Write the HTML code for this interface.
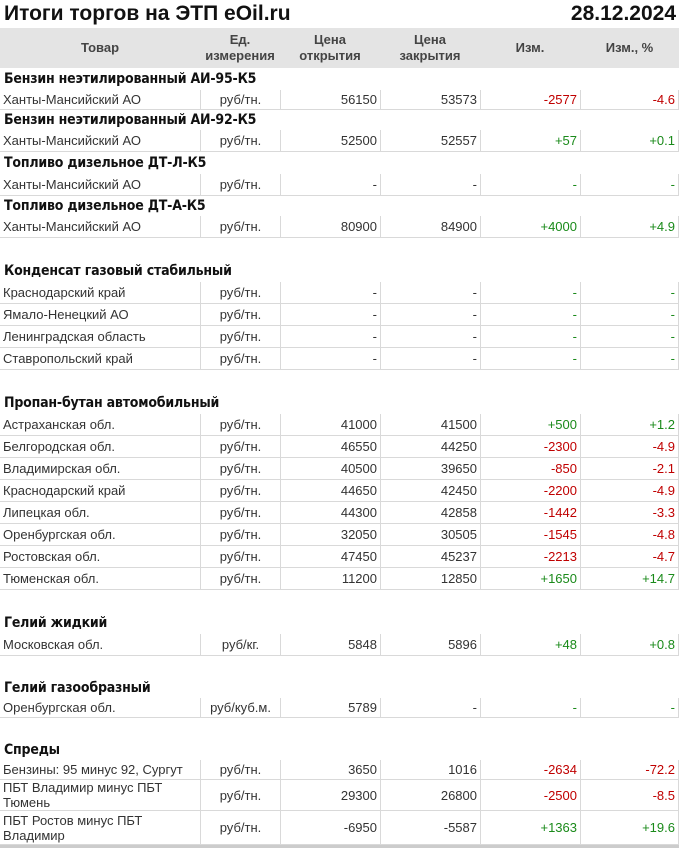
<!DOCTYPE html>
<html><head><meta charset="utf-8"><style>
body{margin:0;width:680px;height:849px;background:#fff;position:relative;overflow:hidden;font-family:"Liberation Sans","DejaVu Sans",sans-serif;}
.t{position:absolute;font-weight:bold;font-size:21px;color:#111;top:2px}
.hdr{position:absolute;left:0;top:28px;width:679px;height:40px;background:#e4e4e4;}
.hc{position:absolute;top:0;height:40px;display:flex;align-items:center;justify-content:center;text-align:center;font-size:13px;font-weight:bold;color:#444;line-height:16px}
.row{position:absolute;left:0;width:679px}
.c{position:absolute;top:0;height:100%;box-sizing:border-box;display:flex;align-items:center;font-size:13px;color:#333;padding:0 3px;line-height:15px}
.r{justify-content:flex-end}
.sec{position:absolute;left:4px;font-weight:bold;font-size:14px;color:#111;font-family:"DejaVu Sans Condensed","Liberation Sans",sans-serif;letter-spacing:-0.2px}
.red{color:#c00000}.grn{color:#1a8a1a}
</style></head><body>
<div class="t" style="left:4px">Итоги торгов на ЭТП eOil.ru</div>
<div class="t" style="right:4px">28.12.2024</div>
<div class="hdr">
<div class="hc" style="left:0;width:200px">Товар</div>
<div class="hc" style="left:200px;width:80px">Ед.<br>измерения</div>
<div class="hc" style="left:280px;width:100px">Цена<br>открытия</div>
<div class="hc" style="left:380px;width:100px">Цена<br>закрытия</div>
<div class="hc" style="left:480px;width:100px">Изм.</div>
<div class="hc" style="left:580px;width:99px">Изм., %</div>
</div>
<div id="tb"></div>
<div style="position:absolute;left:0;top:845px;width:679px;height:3px;background:#ccc"></div>
<script>
const rows=[
['s','Бензин неэтилированный АИ-95-К5',22],
['d','Ханты-Мансийский АО','руб/тн.','56150','53573','-2577','-4.6',20],
['s','Бензин неэтилированный АИ-92-К5',20],
['d','Ханты-Мансийский АО','руб/тн.','52500','52557','+57','+0.1',22],
['s','Топливо дизельное ДТ-Л-К5',22],
['d','Ханты-Мансийский АО','руб/тн.','-','-','-','-',22],
['s','Топливо дизельное ДТ-А-К5',20],
['d','Ханты-Мансийский АО','руб/тн.','80900','84900','+4000','+4.9',22],
['b',22],
['s','Конденсат газовый стабильный',22],
['d','Краснодарский край','руб/тн.','-','-','-','-',22],
['d','Ямало-Ненецкий АО','руб/тн.','-','-','-','-',22],
['d','Ленинградская область','руб/тн.','-','-','-','-',22],
['d','Ставропольский край','руб/тн.','-','-','-','-',22],
['b',22],
['s','Пропан-бутан автомобильный',22],
['d','Астраханская обл.','руб/тн.','41000','41500','+500','+1.2',22],
['d','Белгородская обл.','руб/тн.','46550','44250','-2300','-4.9',22],
['d','Владимирская обл.','руб/тн.','40500','39650','-850','-2.1',22],
['d','Краснодарский край','руб/тн.','44650','42450','-2200','-4.9',22],
['d','Липецкая обл.','руб/тн.','44300','42858','-1442','-3.3',22],
['d','Оренбургская обл.','руб/тн.','32050','30505','-1545','-4.8',22],
['d','Ростовская обл.','руб/тн.','47450','45237','-2213','-4.7',22],
['d','Тюменская обл.','руб/тн.','11200','12850','+1650','+14.7',22],
['b',22],
['s','Гелий жидкий',22],
['d','Московская обл.','руб/кг.','5848','5896','+48','+0.8',22],
['b',22],
['s','Гелий газообразный',20],
['d','Оренбургская обл.','руб/куб.м.','5789','-','-','-',20],
['b',22],
['s','Спреды',20],
['d','Бензины: 95 минус 92, Сургут','руб/тн.','3650','1016','-2634','-72.2',20],
['d','ПБТ Владимир минус ПБТ Тюмень','руб/тн.','29300','26800','-2500','-8.5',31],
['d','ПБТ Ростов минус ПБТ Владимир','руб/тн.','-6950','-5587','+1363','+19.6',34]
];
const cols=[[0,200,''],[200,80,'c'],[280,100,'r'],[380,100,'r'],[480,100,'r'],[580,99,'r']];
const tb=document.getElementById('tb');
let y=68;
rows.forEach((r,i)=>{
 const h=r[r.length-1];
 const row=document.createElement('div');
 row.className='row';
 row.style.top=y+'px';row.style.height=h+'px';
 if(r[0]==='s'){
  
  
  const s=document.createElement('div');s.className='sec';s.textContent=r[1];
  s.style.top=((h-17)/2)+'px';
  
  
  row.appendChild(s);
 } else if(r[0]==='b'){
  
  
 } else {
  
  
  row.style.borderBottom='1px solid #d9d9d9';row.style.boxSizing='border-box';
  for(let k=0;k<6;k++){
   const c=document.createElement('div');
   c.className='c';
   c.style.left=cols[k][0]+'px';c.style.width=cols[k][1]+'px';
   if(cols[k][2]==='r')c.classList.add('r');
   if(cols[k][2]==='c'){c.style.justifyContent='center';}
   if(k>0)c.style.borderLeft='1px solid #d9d9d9';
   if(k===5)c.style.borderRight='1px solid #d9d9d9';
   const v=r[k+1];
   if(k>=4){if(v[0]==='-'&&v.length>1)c.classList.add('red');else c.classList.add('grn');}
   c.textContent=v;
   
   
   row.appendChild(c);
  }
 }
 tb.appendChild(row);
 y+=h;
});
</script>
</body></html>
